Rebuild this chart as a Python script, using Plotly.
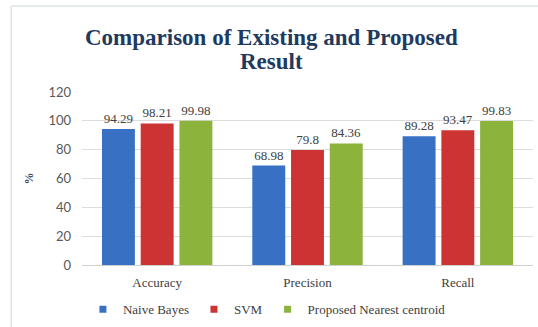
import plotly.graph_objects as go

# Metric categories and scores (%) for each classifier
metrics = ["Accuracy", "Precision", "Recall"]
naive_bayes = [94.29, 68.98, 89.28]
svm = [98.21, 79.8, 93.47]
nearest_centroid = [99.98, 84.36, 99.83]

series_names = ["Naive Bayes", "SVM", "Proposed Nearest centroid"]
series_values = [naive_bayes, svm, nearest_centroid]
series_colors = ["#3870c4", "#cc3434", "#8cb43c"]

y_ticks = [0, 20, 40, 60, 80, 100, 120]

serif = "Liberation Serif, Times New Roman, serif"
fig = go.Figure()

for name, vals, col in zip(series_names, series_values, series_colors):
    fig.add_trace(go.Bar(
        x=metrics, y=vals, name=name,
        marker=dict(color=col, line=dict(width=0)),
        text=[f"{v:g}" for v in vals],
        textposition="outside",
        textfont=dict(family=serif, size=13, color="#404040"),
        cliponaxis=False,
        showlegend=False,
    ))

# Small square legend keys
for name, col in zip(series_names, series_colors):
    fig.add_trace(go.Scatter(
        x=[None], y=[None], mode="markers", name=name,
        marker=dict(symbol="square", size=7, color=col),
        showlegend=True,
    ))

fig.update_layout(
    width=538, height=327,
    margin=dict(l=82, r=5, t=92, b=62, autoexpand=False),
    paper_bgcolor="white", plot_bgcolor="white",
    barmode="group", bargap=0.227, bargroupgap=0.15,
    showlegend=True,
    legend=dict(
        orientation="h", x=0.41, xanchor="center", y=-0.17, yanchor="top",
        font=dict(family=serif, size=13, color="#404040"),
        itemwidth=30, tracegroupgap=0,
    ),
    xaxis=dict(
        showgrid=False, showline=True, linecolor="#d0d0d0", linewidth=1,
        ticks="", ticklabelstandoff=5,
        tickfont=dict(family=serif, size=13, color="#404040"),
    ),
    yaxis=dict(
        range=[0, 120], tickvals=y_ticks, showgrid=True, gridcolor="#dcdcdc",
        gridwidth=1, zeroline=False, showline=False, ticks="",
        ticklabelstandoff=10,
        tickfont=dict(family="Lato, sans-serif", size=13, color="#595959"),
        title=dict(text="<b>%</b>", standoff=12,
                   font=dict(family=serif, size=12, color="#2f4a70")),
    ),
    annotations=[
        dict(text="<b>Comparison of Existing and Proposed</b>",
             xref="paper", yref="paper", x=0.42, y=1.315, xanchor="center",
             yanchor="middle", showarrow=False,
             font=dict(family=serif, size=23, color="#1f3a5f")),
        dict(text="<b>Result</b>",
             xref="paper", yref="paper", x=0.42, y=1.178, xanchor="center",
             yanchor="middle", showarrow=False,
             font=dict(family=serif, size=23, color="#1f3a5f")),
    ],
    shapes=[
        dict(type="line", xref="paper", yref="paper",
             x0=-0.157, x1=1.02, y0=1.497, y1=1.497,
             line=dict(color="#d8e6e6", width=1.5)),
        dict(type="line", xref="paper", yref="paper",
             x0=-0.157, x1=-0.157, y0=1.497, y1=-0.36,
             line=dict(color="#d8e6e6", width=1.5)),
    ],
)

fig.write_html("out.html")
